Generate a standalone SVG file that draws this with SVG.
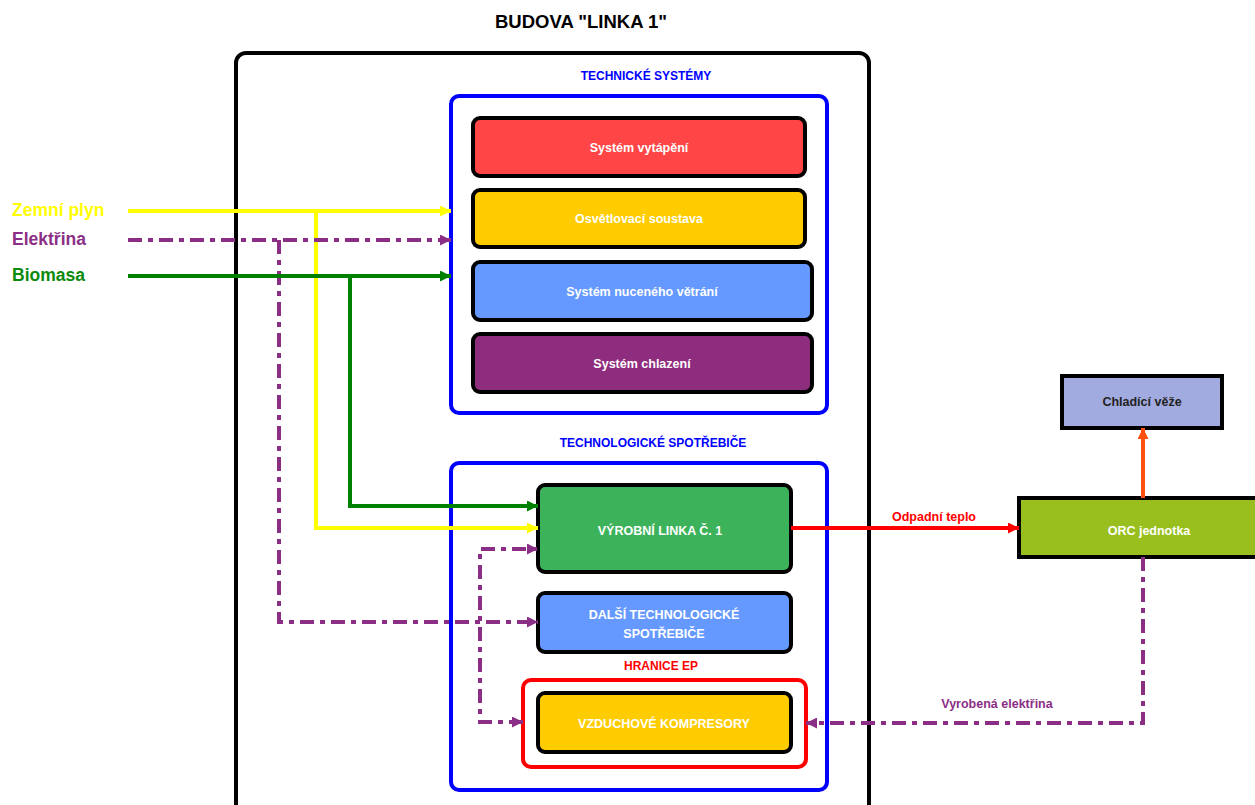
<svg xmlns="http://www.w3.org/2000/svg" width="1255" height="805" viewBox="0 0 1255 805">
  <style>
    text { font-family: "Liberation Sans", Arial, sans-serif; font-weight: bold; }
    .box { stroke: #000; stroke-width: 4; }
    .lbl { fill: #fff; font-size: 12.5px; text-anchor: middle; }
    .grp { fill: none; stroke: #0000FF; stroke-width: 4; }
    .grpt { fill: #0000FF; font-size: 12px; text-anchor: middle; }
    .ln { fill: none; stroke-width: 4; }
    .dd { stroke-dasharray: 14 6 5 6; }
    .src { font-size: 17.5px; }
  </style>
  <defs>
    <marker id="aY" viewBox="0 0 10 10" refX="10" refY="5" markerWidth="13" markerHeight="11" markerUnits="userSpaceOnUse" orient="auto-start-reverse"><path d="M0,0 L10,5 L0,10 z" fill="#FFFF00"/></marker>
    <marker id="aG" viewBox="0 0 10 10" refX="10" refY="5" markerWidth="13" markerHeight="11" markerUnits="userSpaceOnUse" orient="auto-start-reverse"><path d="M0,0 L10,5 L0,10 z" fill="#008000"/></marker>
    <marker id="aP" viewBox="0 0 10 10" refX="10" refY="5" markerWidth="13" markerHeight="11" markerUnits="userSpaceOnUse" orient="auto-start-reverse"><path d="M0,0 L10,5 L0,10 z" fill="#8B2F86"/></marker>
    <marker id="aR" viewBox="0 0 10 10" refX="10" refY="5" markerWidth="13" markerHeight="11" markerUnits="userSpaceOnUse" orient="auto-start-reverse"><path d="M0,0 L10,5 L0,10 z" fill="#FF0000"/></marker>
    <marker id="aO" viewBox="0 0 10 10" refX="10" refY="5" markerWidth="13" markerHeight="11" markerUnits="userSpaceOnUse" orient="auto-start-reverse"><path d="M0,0 L10,5 L0,10 z" fill="#FF5010"/></marker>
  </defs>

  <rect width="1255" height="805" fill="#fff"/>

  <!-- building boundary -->
  <g id="budova">
    <text x="581" y="28" font-size="18.5" text-anchor="middle" fill="#000">BUDOVA "LINKA 1"</text>
    <rect x="236" y="53" width="633" height="780" rx="10" fill="none" stroke="#000" stroke-width="4"/>
  </g>

  <!-- technical systems group -->
  <g id="technicke-systemy">
    <text class="grpt" x="646" y="80">TECHNICKÉ SYSTÉMY</text>
    <rect class="grp" x="451" y="96" width="376" height="317" rx="8"/>
  </g>
  <g id="vytapeni">
    <rect class="box" x="473" y="118" width="332" height="58" rx="7" fill="#FF4545"/>
    <text class="lbl" x="639" y="152">Systém vytápění</text>
  </g>
  <g id="osvetleni">
    <rect class="box" x="473" y="190" width="332" height="57" rx="7" fill="#FFCC00"/>
    <text class="lbl" x="639" y="223">Osvětlovací soustava</text>
  </g>
  <g id="vetrani">
    <rect class="box" x="473" y="262" width="339" height="58" rx="7" fill="#6699FF"/>
    <text class="lbl" x="642" y="296">Systém nuceného větrání</text>
  </g>
  <g id="chlazeni">
    <rect class="box" x="473" y="334" width="339" height="58" rx="7" fill="#8E2C7E"/>
    <text class="lbl" x="642" y="368">Systém chlazení</text>
  </g>

  <!-- technological consumers group -->
  <g id="technologicke-spotrebice">
    <text class="grpt" x="653" y="447">TECHNOLOGICKÉ SPOTŘEBIČE</text>
    <rect class="grp" x="451" y="463" width="376" height="327" rx="8"/>
  </g>
  <g id="vyrobni-linka">
    <rect class="box" x="538" y="485" width="253" height="87" rx="7" fill="#3CB35A"/>
    <text class="lbl" x="660" y="535">VÝROBNÍ LINKA Č. 1</text>
  </g>
  <g id="dalsi-spotrebice">
    <rect class="box" x="538" y="593" width="253" height="59" rx="7" fill="#6699FF"/>
    <text class="lbl" x="664" y="619">DALŠÍ TECHNOLOGICKÉ</text>
    <text class="lbl" x="664" y="638">SPOTŘEBIČE</text>
  </g>
  <g id="hranice-ep">
    <text x="661" y="670" font-size="12" text-anchor="middle" fill="#FF0000">HRANICE EP</text>
    <rect x="523" y="680" width="283" height="87" rx="8" fill="none" stroke="#FF0000" stroke-width="4"/>
  </g>
  <g id="kompresory">
    <rect class="box" x="538" y="693" width="253" height="59" rx="7" fill="#FFCC00"/>
    <text class="lbl" x="664" y="728">VZDUCHOVÉ KOMPRESORY</text>
  </g>

  <!-- external units -->
  <g id="chladici-veze">
    <rect class="box" x="1062" y="376" width="160" height="52" fill="#A2ABDF"/>
    <text x="1142" y="406" font-size="12.5" text-anchor="middle" fill="#222">Chladící věže</text>
  </g>
  <g id="orc">
    <rect class="box" x="1019" y="498" width="250" height="59" fill="#99BF1F"/>
    <text class="lbl" x="1149" y="535">ORC jednotka</text>
  </g>

  <!-- energy source labels -->
  <g id="zdroje">
    <text class="src" x="12" y="216" fill="#FFFF00">Zemní plyn</text>
    <text class="src" x="12" y="245" fill="#8B2F86">Elektřina</text>
    <text class="src" x="12" y="281" fill="#0B8A0B">Biomasa</text>
  </g>

  <!-- connectors -->
  <g id="connectors">
    <!-- natural gas -->
    <path class="ln" stroke="#FFFF00" d="M128 211 H451" marker-end="url(#aY)"/>
    <path class="ln" stroke="#FFFF00" d="M316 211 V528 H538" marker-end="url(#aY)"/>
    <!-- electricity -->
    <path class="ln dd" stroke="#8B2F86" d="M128 240 H451" marker-end="url(#aP)"/>
    <path class="ln dd" stroke="#8B2F86" d="M279 240 V622 H538" marker-end="url(#aP)"/>
    <!-- biomass -->
    <path class="ln" stroke="#008000" d="M128 276 H451" marker-end="url(#aG)"/>
    <path class="ln" stroke="#008000" d="M350 276 V506 H538" marker-end="url(#aG)"/>
    <!-- internal electricity distribution -->
    <path class="ln dd" stroke="#8B2F86" d="M523 722 H480 V549 H538" marker-start="url(#aP)" marker-end="url(#aP)"/>
    <!-- waste heat -->
    <path class="ln" stroke="#FF0000" d="M791 528 H1019" marker-end="url(#aR)"/>
    <text x="934" y="521" font-size="12.5" text-anchor="middle" fill="#FF0000">Odpadní teplo</text>
    <!-- to cooling towers -->
    <path class="ln" stroke="#FF5010" d="M1143 498 V428" marker-end="url(#aO)"/>
    <!-- generated electricity -->
    <path class="ln dd" stroke="#8B2F86" d="M1143 557 V723 H806" marker-end="url(#aP)"/>
    <text x="997" y="708" font-size="12.5" text-anchor="middle" fill="#8B2F86">Vyrobená elektřina</text>
  </g>
</svg>
